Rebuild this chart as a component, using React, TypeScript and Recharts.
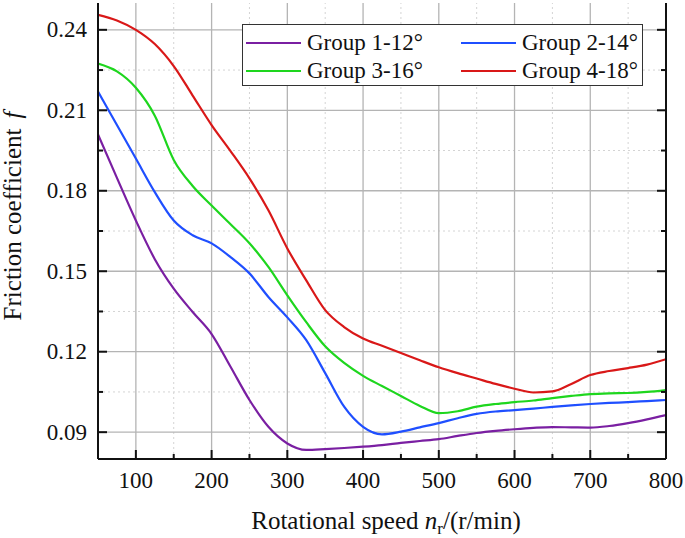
import React from 'react';
import { LineChart, Line, XAxis, YAxis, ReferenceLine } from 'recharts';

const SPEED = [50, 75, 100, 125, 150, 175, 200, 225, 250, 275, 300, 325, 350, 375, 400, 425, 450, 475, 500, 525, 550, 575, 600, 625, 650, 675, 700, 725, 750, 775, 800];

const GROUP1 = [0.201, 0.1848, 0.1689, 0.1545, 0.1435, 0.1348, 0.1266, 0.1144, 0.102, 0.092, 0.0858, 0.0834, 0.0837, 0.0841, 0.0846, 0.0852, 0.086, 0.0867, 0.0874, 0.0886, 0.0897, 0.0905, 0.0911, 0.0916, 0.0919, 0.0918, 0.0917, 0.0923, 0.0934, 0.0948, 0.0964];
const GROUP2 = [0.217, 0.2045, 0.192, 0.1795, 0.1689, 0.1634, 0.1604, 0.1553, 0.1492, 0.1404, 0.1328, 0.1243, 0.112, 0.0995, 0.092, 0.0892, 0.0902, 0.0918, 0.0934, 0.0952, 0.0968, 0.0977, 0.0982, 0.0988, 0.0994, 0.1, 0.1005, 0.1009, 0.1012, 0.1016, 0.102];
const GROUP3 = [0.2274, 0.2245, 0.2184, 0.208, 0.1915, 0.1818, 0.1745, 0.1675, 0.1604, 0.1516, 0.141, 0.131, 0.122, 0.1158, 0.111, 0.1072, 0.1035, 0.0998, 0.0971, 0.0978, 0.0995, 0.1005, 0.1012, 0.1018, 0.1027, 0.1035, 0.1042, 0.1045, 0.1046, 0.105, 0.1057];
const GROUP4 = [0.2456, 0.2435, 0.24, 0.2347, 0.2265, 0.2155, 0.2045, 0.1948, 0.1846, 0.1727, 0.1585, 0.1466, 0.1355, 0.1292, 0.1249, 0.1222, 0.1195, 0.1168, 0.1142, 0.112, 0.11, 0.108, 0.1062, 0.1048, 0.1052, 0.108, 0.1113, 0.1128, 0.1139, 0.1152, 0.1172];

const SERIES = [
  { key: 'g1', name: 'Group 1-12°', color: '#7a1fa2', values: GROUP1 },
  { key: 'g2', name: 'Group 2-14°', color: '#1f4fff', values: GROUP2 },
  { key: 'g3', name: 'Group 3-16°', color: '#1ed61e', values: GROUP3 },
  { key: 'g4', name: 'Group 4-18°', color: '#d91818', values: GROUP4 },
];

const X_MAJOR = [100, 200, 300, 400, 500, 600, 700, 800];
const X_MINOR = [150, 250, 350, 450, 550, 650, 750];
const Y_MAJOR = [0.09, 0.12, 0.15, 0.18, 0.21, 0.24];
const Y_MINOR = [0.105, 0.135, 0.165, 0.195, 0.225];
const X_TICKS = [...X_MAJOR, ...X_MINOR].sort((a, b) => a - b);
const Y_TICKS = [...Y_MAJOR, ...Y_MINOR].sort((a, b) => a - b);

const data = SPEED.map((v, i) => {
  const row: any = { v };
  SERIES.forEach((s) => { row[s.key] = s.values[i]; });
  return row;
});

const FONT = "Tinos, 'Liberation Serif', 'Nimbus Roman', 'Times New Roman', Times, 'DejaVu Serif', serif";
const AXIS_COLOR = '#111';

const isMajorY = (v: number) => Y_MAJOR.some((m) => Math.abs(m - v) < 1e-6);
const isMajorX = (v: number) => X_MAJOR.includes(v);

const BottomTick = (props: any) => {
  const { x, y, payload } = props;
  const major = isMajorX(payload.value);
  return (
    <g>
      <line x1={x} x2={x} y1={y} y2={y - (major ? 9 : 5)} stroke={AXIS_COLOR} strokeWidth={2} />
      {major && (
        <text x={x} y={y + 29} textAnchor="middle" style={{ fontFamily: FONT }} fontSize={23} fill="#111">{payload.value}</text>
      )}
    </g>
  );
};

const TopTick = (props: any) => {
  const { x, y, payload } = props;
  const major = isMajorX(payload.value);
  return <line x1={x} x2={x} y1={y} y2={y + (major ? 9 : 5)} stroke={AXIS_COLOR} strokeWidth={2} />;
};

const LeftTick = (props: any) => {
  const { x, y, payload } = props;
  const major = isMajorY(payload.value);
  return (
    <g>
      <line x1={x} x2={x + (major ? 9 : 5)} y1={y} y2={y} stroke={AXIS_COLOR} strokeWidth={2} />
      {major && (
        <text x={x - 11} y={y + 7.5} textAnchor="end" style={{ fontFamily: FONT }} fontSize={23} fill="#111">{payload.value.toFixed(2)}</text>
      )}
    </g>
  );
};

const RightTick = (props: any) => {
  const { x, y, payload } = props;
  const major = isMajorY(payload.value);
  return <line x1={x} x2={x - (major ? 9 : 5)} y1={y} y2={y} stroke={AXIS_COLOR} strokeWidth={2} />;
};

const YTitle = () => (
  <text transform="translate(21, 216) rotate(-90)" textAnchor="middle" style={{ fontFamily: FONT }} fontSize={25} fill="#111">
    Friction coefficient<tspan dx={10} fontStyle="italic">f</tspan>
  </text>
);

const XTitle = () => (
  <text x={386} y={529} textAnchor="middle" style={{ fontFamily: FONT }} fontSize={25} fill="#111">
    Rotational speed <tspan fontStyle="italic">n</tspan><tspan fontSize={17} dy={5}>r</tspan><tspan dy={-5}>/(r/min)</tspan>
  </text>
);

const LEGEND_ORDER = [0, 2, 1, 3];

const LegendBox = () => (
  <div
    style={{
      position: 'absolute', left: 242, top: 24, width: 399, height: 60,
      border: '1px solid #333', background: '#fff', fontFamily: FONT, fontSize: 23, color: '#111',
    }}
  >
    {SERIES.map((s, i) => {
      const idx = LEGEND_ORDER[i];
      const c = Math.floor(idx / 2);
      const r = idx % 2;
      return (
        <div key={s.key} style={{ position: 'absolute', left: c === 0 ? 3 : 218, top: r === 0 ? 4 : 32, height: 28, display: 'flex', alignItems: 'center', whiteSpace: 'nowrap' }}>
          <div style={{ width: 55, height: 0, borderTop: `2.5px solid ${s.color}` }} />
          <span style={{ marginLeft: 6, lineHeight: '28px' }}>{s.name}</span>
        </div>
      );
    })}
  </div>
);

export default function App() {
  return (
    <div style={{ position: 'absolute', left: 0, top: 0, width: 685, height: 538, background: '#fff' }}>
      <LineChart width={685} height={538} data={data} margin={{ top: 3, right: 0, bottom: 0, left: 0 }}>
        <XAxis dataKey="v" type="number" domain={[50, 800]} ticks={X_TICKS} interval={0} height={79}
          tickLine={false} tickSize={0} tickMargin={0} tick={<BottomTick />}
          axisLine={{ stroke: AXIS_COLOR, strokeWidth: 2 }} allowDataOverflow />
        <XAxis xAxisId="top" orientation="top" dataKey="v" type="number" domain={[50, 800]} ticks={X_TICKS} interval={0} height={0}
          tickLine={false} tickSize={0} tickMargin={0} tick={<TopTick />}
          axisLine={{ stroke: AXIS_COLOR, strokeWidth: 2 }} allowDataOverflow />
        <YAxis type="number" domain={[0.08, 0.25]} ticks={Y_TICKS} interval={0} width={98}
          tickLine={false} tickSize={0} tickMargin={0} tick={<LeftTick />}
          axisLine={{ stroke: AXIS_COLOR, strokeWidth: 2 }} allowDataOverflow />
        <YAxis yAxisId="right" orientation="right" type="number" domain={[0.08, 0.25]} ticks={Y_TICKS} interval={0} width={19}
          tickLine={false} tickSize={0} tickMargin={0} tick={<RightTick />}
          axisLine={{ stroke: AXIS_COLOR, strokeWidth: 2 }} allowDataOverflow />
        {X_MINOR.map((v) => (
          <ReferenceLine key={'xm' + v} x={v} stroke="#d4d4d4" strokeWidth={1} strokeDasharray="2 3" />
        ))}
        {Y_MINOR.map((v) => (
          <ReferenceLine key={'ym' + v} y={v} stroke="#d4d4d4" strokeWidth={1} strokeDasharray="2 3" />
        ))}
        {X_MAJOR.map((v) => (
          <ReferenceLine key={'xM' + v} x={v} stroke="#b4b4b4" strokeWidth={1.3} />
        ))}
        {Y_MAJOR.map((v) => (
          <ReferenceLine key={'yM' + v} y={v} stroke="#b4b4b4" strokeWidth={1.3} />
        ))}
        {SERIES.map((s) => (
          <Line key={s.key} dataKey={s.key} name={s.name} type="monotone" stroke={s.color} strokeWidth={2.2}
            dot={false} activeDot={false} isAnimationActive={false} />
        ))}
        <YTitle />
        <XTitle />
      </LineChart>
      <LegendBox />
    </div>
  );
}
